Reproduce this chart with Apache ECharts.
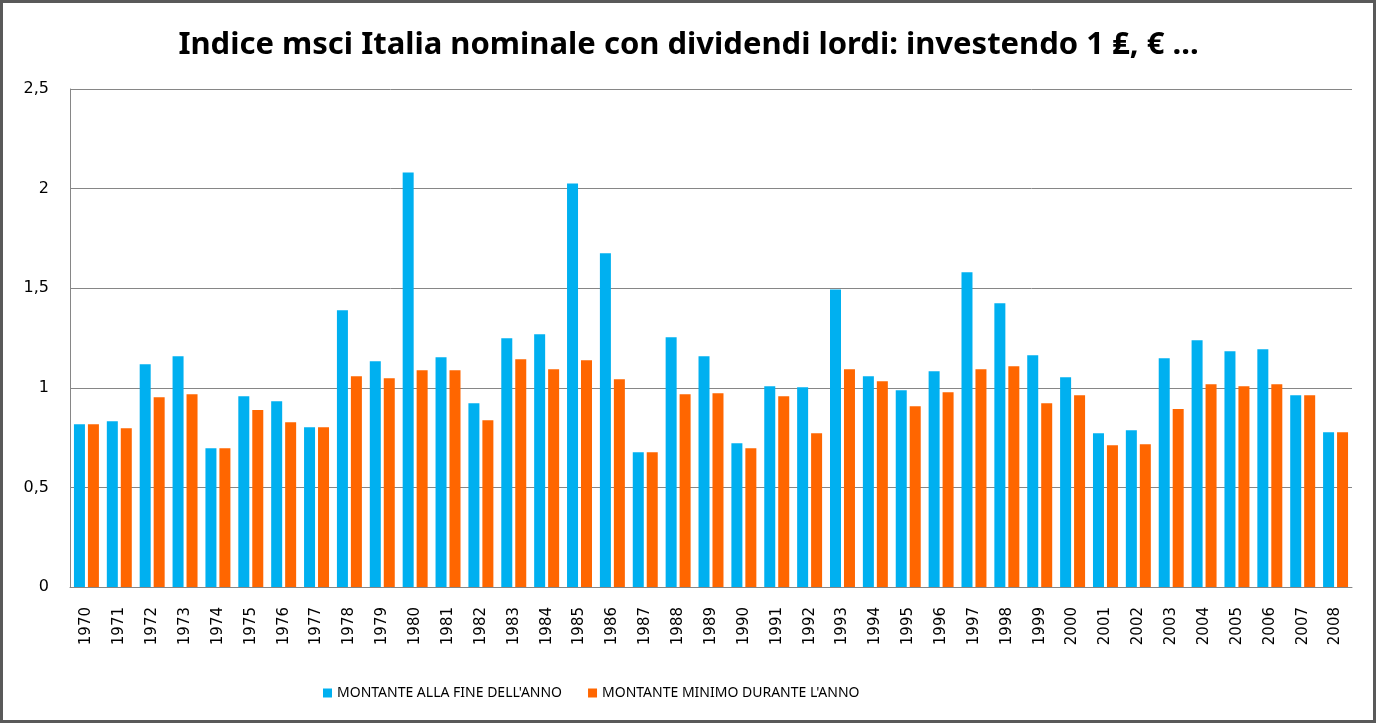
<!DOCTYPE html>
<html>
<head>
<meta charset="utf-8">
<script src="https://cdn.jsdelivr.net/npm/echarts@6/dist/echarts.min.js"></script>
<style>
html,body{margin:0;padding:0;background:#fff;}
#c{width:1377px;height:724px;}
</style>
</head>
<body>
<div id="c"></div>
<script>
const years = ['1970','1971','1972','1973','1974','1975','1976','1977','1978','1979','1980','1981','1982','1983','1984','1985','1986','1987','1988','1989','1990','1991','1992','1993','1994','1995','1996','1997','1998','1999','2000','2001','2002','2003','2004','2005','2006','2007','2008'];
const fineAnno = [0.817,0.832,1.118,1.158,0.697,0.958,0.933,0.802,1.389,1.133,2.081,1.153,0.923,1.249,1.269,2.026,1.675,0.677,1.254,1.158,0.722,1.008,1.003,1.494,1.058,0.988,1.083,1.580,1.424,1.163,1.053,0.772,0.787,1.148,1.239,1.184,1.194,0.963,0.777];
const minimoAnno = [0.817,0.797,0.953,0.968,0.697,0.888,0.827,0.802,1.058,1.048,1.088,1.088,0.837,1.143,1.093,1.138,1.043,0.677,0.968,0.973,0.697,0.958,0.772,1.093,1.033,0.908,0.978,1.093,1.108,0.923,0.963,0.712,0.717,0.893,1.018,1.008,1.018,0.963,0.777];
const seriesNames = ["MONTANTE ALLA FINE DELL'ANNO", "MONTANTE MINIMO DURANTE L'ANNO"];
const titleText = 'Indice msci Italia nominale con dividendi lordi: investendo 1 ₤, € ...';

const chart = echarts.init(document.getElementById('c'), null, {renderer:'canvas'});
chart.setOption({
  animation: false,
  backgroundColor: '#fff',
  title: {
    text: titleText,
    left: 'center',
    top: 25,
    textStyle: {fontFamily: 'Noto Sans', fontWeight: 'bold', fontSize: 31, color: '#000'}
  },
  legend: {
    left: 318,
    top: 681,
    itemWidth: 9,
    itemHeight: 9,
    itemGap: 26,
    icon: 'rect',
    textStyle: {fontFamily: 'Noto Sans', fontSize: 14, color: '#000'},
    data: seriesNames
  },
  grid: {left: 70, right: 25, top: 89, bottom: 137, containLabel: false},
  xAxis: {
    type: 'category',
    data: years,
    axisLine: {lineStyle: {color: '#868686', width: 1}},
    axisTick: {show: false},
    axisLabel: {rotate: 90, fontFamily: 'DejaVu Sans', fontSize: 15, color: '#000', margin: 20, interval: 0}
  },
  yAxis: {
    type: 'value',
    min: 0, max: 2.5, interval: 0.5,
    axisLine: {show: true, lineStyle: {color: '#868686', width: 1}},
    axisTick: {show: false},
    splitLine: {lineStyle: {color: '#868686', width: 1}},
    axisLabel: {fontFamily: 'DejaVu Sans', fontSize: 16, color: '#000', margin: 21,
      formatter: v => String(v).replace('.', ',')}
  },
  series: [
    {name: seriesNames[0], type: 'bar', data: fineAnno, barWidth: 11, barGap: '27%', itemStyle: {color: '#00B0F0'}},
    {name: seriesNames[1], type: 'bar', data: minimoAnno, barWidth: 11, itemStyle: {color: '#FF6600'}}
  ],
  graphic: [{
    type: 'rect', silent: true, z: 100,
    shape: {x: 1.5, y: 1.5, width: 1373, height: 720},
    style: {fill: 'none', stroke: '#595959', lineWidth: 3}
  }]
});
</script>
</body>
</html>
